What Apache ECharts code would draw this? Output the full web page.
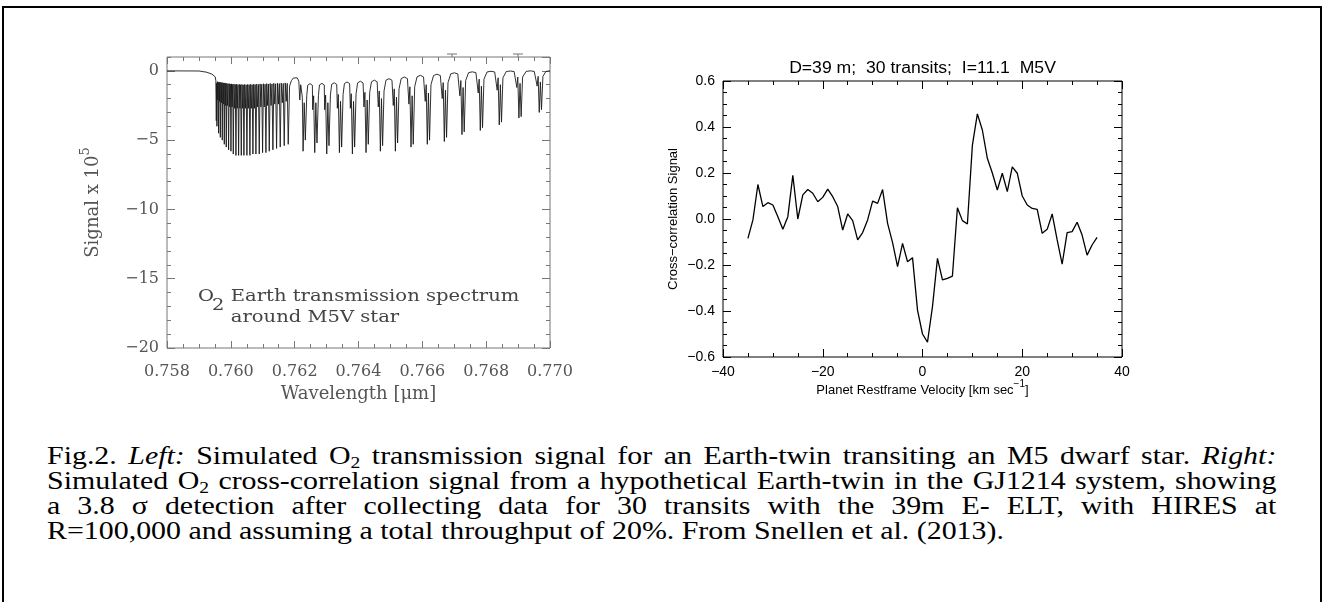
<!DOCTYPE html>
<html>
<head>
<meta charset="utf-8">
<script src="https://cdn.jsdelivr.net/npm/echarts@6.0.0/dist/echarts.min.js"></script>
<style>
html,body{margin:0;padding:0;background:#fff;}
#wrap{position:relative;width:1324px;height:602px;overflow:hidden;background:#fff;}
#chart{position:absolute;left:0;top:0;width:1324px;height:440px;}
#frame{position:absolute;left:2px;top:6px;width:1316px;height:700px;border:2px solid #000;pointer-events:none;z-index:3;}
#caption{position:absolute;left:47px;top:443px;width:1069px;transform:scaleX(1.15);transform-origin:0 0;font-family:'Liberation Serif','Times New Roman',serif;font-size:26px;line-height:25px;color:#000;z-index:2;}
#caption .ln{white-space:nowrap;height:25px;overflow:visible;}
#caption .j{text-align:justify;text-align-last:justify;}
#caption .sub{font-size:17px;line-height:0;position:relative;top:4px;}
</style>
</head>
<body>
<div id="wrap">
  <div id="chart"></div>
  <div id="caption">
    <div class="ln j"><span class="t">Fig.2. <i>Left:</i> Simulated O<span class="sub">2</span> transmission signal for an Earth-twin transiting an M5 dwarf star. <i>Right:</i></span></div>
    <div class="ln j"><span class="t">Simulated O<span class="sub">2</span> cross-correlation signal from a hypothetical Earth-twin in the GJ1214 system, showing</span></div>
    <div class="ln j"><span class="t">a 3.8 σ detection after collecting data for 30 transits with the 39m E- ELT, with HIRES at</span></div>
    <div class="ln"><span class="t">R=100,000 and assuming a total throughput of 20%. From Snellen et al. (2013).</span></div>
  </div>
  <div id="frame"></div>
</div>
<script>
// ---------------- DATA ----------------
// Left panel: O2 transmission spectrum (wavelength in micron, signal x 1e5)
const preBand = [
  [0.7580, 0.0], [0.7585, -0.005], [0.7590, -0.01], [0.75925, -0.1], [0.75941, -0.24],
  [0.75951, -0.43], [0.75953, -0.7], [0.759545, -3.6], [0.759555, -0.9]
];
// R-branch deep absorption lines
const rBranchLines = [
  [0.759565, -4.0], [0.759617, -4.5], [0.759670, -4.8], [0.759732, -5.0], [0.759795, -5.3],
  [0.759857, -5.5], [0.759930, -5.7], [0.760004, -5.8], [0.760077, -6.0], [0.760160, -6.1],
  [0.760244, -6.1], [0.760327, -6.1], [0.760410, -6.1], [0.760504, -6.1], [0.760598, -6.1],
  [0.760692, -6.0], [0.760786, -6.0], [0.760890, -6.0], [0.760995, -5.9], [0.761099, -5.9],
  [0.761204, -5.8], [0.761318, -5.7], [0.761433, -5.6], [0.761548, -5.5], [0.761673, -5.4],
  [0.761798, -5.3]
];
// R-branch: local maxima and weaker lines between the deep lines
const rBranchInter = [
  [0.759578,-0.78],[0.759591,-2.1],[0.759604,-0.82],
  [0.759630,-0.80],[0.759644,-2.2],[0.759657,-0.84],
  [0.759686,-0.82],[0.759701,-2.3],[0.759717,-0.86],
  [0.759748,-0.85],[0.759764,-2.4],[0.759779,-0.88],
  [0.759811,-0.87],[0.759826,-2.5],[0.759842,-0.90],
  [0.759875,-0.90],[0.759894,-2.5],[0.759912,-0.93],
  [0.759949,-0.92],[0.759967,-2.6],[0.759986,-0.95],
  [0.760022,-0.94],[0.760041,-2.6],[0.760059,-0.97],
  [0.760098,-0.95],[0.760119,-2.7],[0.760139,-0.98],
  [0.760181,-0.96],[0.760202,-2.7],[0.760223,-1.00],
  [0.760265,-0.97],[0.760286,-2.7],[0.760306,-1.00],
  [0.760348,-0.98],[0.760369,-2.7],[0.760389,-1.01],
  [0.760434,-0.98],[0.760457,-2.7],[0.760481,-1.01],
  [0.760528,-0.98],[0.760551,-2.7],[0.760575,-1.00],
  [0.760622,-0.97],[0.760645,-2.7],[0.760669,-1.00],
  [0.760716,-0.96],[0.760739,-2.7],[0.760763,-0.99],
  [0.760812,-0.95],[0.760838,-2.6],[0.760864,-0.98],
  [0.760916,-0.94],[0.760943,-2.6],[0.760969,-0.97],
  [0.761021,-0.93],[0.761047,-2.6],[0.761073,-0.96],
  [0.761125,-0.92],[0.761152,-2.5],[0.761178,-0.95],
  [0.761233,-0.91],[0.761261,-2.5],[0.761290,-0.94],
  [0.761347,-0.90],[0.761376,-2.4],[0.761404,-0.93],
  [0.761462,-0.89],[0.761491,-2.4],[0.761519,-0.92],
  [0.761579,-0.88],[0.761611,-2.3],[0.761642,-0.91],
  [0.761704,-0.87],[0.761736,-2.2],[0.761767,-0.90]
];
// Band-centre gap between R and P branches
const gapArch = [
  [0.76184,-1.1],[0.76190,-0.7],[0.76196,-0.52],[0.76202,-0.45],[0.76208,-0.5],
  [0.76213,-0.75],[0.76216,-2.1],[0.76219,-1.0],[0.76224,-1.9]
];
// P-branch: doublets, arches and weak lines
const pBranch = [
  [0.762264,-5.8],[0.762299,-2.3],[0.762334,-5.0],[0.762379,-1.8],[0.762409,-1.04],[0.762482,-0.92],[0.762555,-1.04],[0.762564,-2.8],[0.762594,-1.8],
  [0.762629,-5.9],[0.762664,-2.3],[0.762699,-5.2],[0.762744,-1.8],[0.762777,-1.02],[0.762852,-0.90],[0.762927,-1.02],[0.762940,-2.8],[0.762970,-1.75],
  [0.763005,-6.0],[0.763040,-2.3],[0.763075,-5.4],[0.763120,-1.75],[0.763159,-0.98],[0.763239,-0.86],[0.763318,-0.98],[0.763337,-2.7],[0.763367,-1.7],
  [0.763402,-5.9],[0.763437,-2.2],[0.763472,-5.5],[0.763517,-1.7],[0.763559,-0.92],[0.763641,-0.80],[0.763722,-0.92],[0.763744,-2.7],[0.763774,-1.65],
  [0.763809,-6.0],[0.763844,-2.2],[0.763879,-5.5],[0.763924,-1.65],[0.763972,-0.87],[0.764058,-0.75],[0.764143,-0.87],[0.764171,-2.6],[0.764201,-1.55],
  [0.764236,-5.9],[0.764271,-2.1],[0.764306,-5.3],[0.764351,-1.55],[0.764406,-0.79],[0.764496,-0.67],[0.764585,-0.79],[0.764620,-2.6],[0.764650,-1.45],
  [0.764685,-5.8],[0.764720,-2.0],[0.764755,-5.4],[0.764800,-1.45],[0.764861,-0.68],[0.764955,-0.56],[0.765049,-0.68],[0.765090,-2.5],[0.765120,-1.3],
  [0.765155,-5.8],[0.765190,-1.9],[0.765225,-5.2],[0.765270,-1.3],[0.765337,-0.56],[0.765435,-0.44],[0.765533,-0.56],[0.765580,-2.4],[0.765610,-1.15],
  [0.765645,-5.5],[0.765680,-1.8],[0.765715,-5.3],[0.765760,-1.15],[0.765833,-0.44],[0.765936,-0.32],[0.766038,-0.44],[0.766091,-2.2],[0.766121,-1.0],
  [0.766156,-5.3],[0.766191,-1.6],[0.766226,-5.0],[0.766271,-1.0],[0.766351,-0.34],[0.766458,-0.24],[0.766564,-0.34],[0.766624,-2.0],[0.766654,-0.85],
  [0.766689,-5.1],[0.766724,-1.4],[0.766759,-4.8],[0.766804,-0.85],[0.766890,-0.22],[0.767001,-0.14],[0.767111,-0.22],[0.767177,-1.8],[0.767207,-0.7],
  [0.767242,-4.6],[0.767277,-1.2],[0.767312,-4.4],[0.767357,-0.7],[0.767449,-0.13],[0.767564,-0.07],[0.767679,-0.13],[0.767751,-1.6],[0.767781,-0.6],
  [0.767816,-4.3],[0.767851,-1.1],[0.767886,-4.1],[0.767931,-0.6],[0.768029,-0.08],[0.768148,-0.03],[0.768267,-0.08],[0.768345,-1.4],[0.768375,-0.5],
  [0.768410,-3.9],[0.768445,-1.0],[0.768480,-3.7],[0.768525,-0.5],[0.768630,-0.05],[0.768753,-0.01],[0.768876,-0.05],[0.768961,-1.2],[0.768991,-0.45],
  [0.769026,-3.4],[0.769061,-0.9],[0.769096,-3.3],[0.769141,-0.45],[0.769252,-0.04],[0.769380,0.0],[0.769507,-0.04],[0.769598,-1.1],[0.769628,-0.4],
  [0.769663,-3.0],[0.769698,-0.8],[0.769733,-2.8],[0.769778,-0.4],[0.769870,-0.05],[0.769960,0.0],[0.770000,-0.02]
];
// Small markers drawn just above the top axis of the left panel
const topMarkWl = [0.766930, 0.768996];

// Right panel: cross-correlation signal vs planet restframe velocity (km/s)
const velocity = [-35,-34,-33,-32,-31,-30,-29,-28,-27,-26,-25,-24,-23,-22,-21,-20,-19,-18,-17,-16,-15,-14,-13,-12,-11,-10,-9,-8,-7,-6,-5,-4,-3,-2,-1,0,1,2,3,4,5,6,7,8,9,10,11,12,13,14,15,16,17,18,19,20,21,22,23,24,25,26,27,28,29,30,31,32,33,34,35];
const xcorr = [-0.084,-0.004,0.150,0.054,0.071,0.061,0.010,-0.045,0.010,0.190,0.000,0.105,0.128,0.112,0.075,0.094,0.130,0.097,0.054,-0.048,0.022,-0.007,-0.091,-0.059,-0.004,0.078,0.068,0.128,-0.019,-0.103,-0.207,-0.106,-0.186,-0.168,-0.396,-0.500,-0.535,-0.381,-0.171,-0.265,-0.258,-0.248,0.049,-0.007,-0.022,0.320,0.457,0.387,0.264,0.200,0.126,0.199,0.119,0.227,0.199,0.100,0.061,0.046,0.042,-0.062,-0.045,0.022,-0.091,-0.196,-0.059,-0.055,-0.014,-0.070,-0.157,-0.113,-0.080];

// Axis tick values / labels
const leftXTicks = [0.758, 0.760, 0.762, 0.764, 0.766, 0.768, 0.770];
const leftYTicks = [-20, -15, -10, -5, 0];
const rightXTicks = [-40, -20, 0, 20, 40];
const rightYTicks = [-0.6, -0.4, -0.2, 0.0, 0.2, 0.4, 0.6];

// ---------------- CHART ----------------
const spectrum = [].concat(preBand, rBranchLines, rBranchInter, gapArch, pBranch).sort((a, b) => a[0] - b[0]);
const xcorrData = velocity.map((v, i) => [v, xcorr[i]]);

const GREY = '#777';
const SERIF = 'DejaVu Serif';
const SANS = 'Liberation Sans';
const minus = s => String(s).replace('-', '\u2212');

function tickAxis(base) { return Object.assign({ type: 'value', splitLine: { show: false } }, base); }

const chart = echarts.init(document.getElementById('chart'), null, { renderer: 'canvas' });
const option = {
  animation: false,
  backgroundColor: 'transparent',
  grid: [
    { left: 167, top: 57, width: 383, height: 291, show: true, borderColor: GREY, borderWidth: 1, backgroundColor: 'transparent' },
    { left: 723, top: 81, width: 399, height: 276, show: true, borderColor: '#000', borderWidth: 1, backgroundColor: 'transparent' }
  ],
  xAxis: [
    tickAxis({ gridIndex: 0, min: leftXTicks[0], max: leftXTicks[leftXTicks.length - 1], interval: 0.002, position: 'bottom',
      axisLine: { show: false, onZero: false },
      axisTick: { inside: true, length: 7, lineStyle: { color: GREY } },
      minorTick: { show: true, splitNumber: 4, length: 4, lineStyle: { color: GREY } },
      axisLabel: { margin: 16, fontFamily: SERIF, fontSize: 16, color: '#555', formatter: v => v.toFixed(3) },
      name: 'Wavelength [\u03bcm]', nameLocation: 'middle', nameGap: 37, nameMoveOverlap: false,
      nameTextStyle: { fontFamily: SERIF, fontSize: 18, color: '#555' } }),
    tickAxis({ gridIndex: 0, min: leftXTicks[0], max: leftXTicks[leftXTicks.length - 1], interval: 0.002, position: 'top',
      axisLine: { show: false, onZero: false },
      axisTick: { inside: true, length: 7, lineStyle: { color: GREY } },
      minorTick: { show: true, splitNumber: 4, length: 4, lineStyle: { color: GREY } },
      axisLabel: { show: false } }),
    tickAxis({ gridIndex: 1, min: rightXTicks[0], max: rightXTicks[rightXTicks.length - 1], interval: 20, position: 'bottom',
      axisLine: { show: false, onZero: false },
      axisTick: { inside: true, length: 8, lineStyle: { color: '#000' } },
      minorTick: { show: true, splitNumber: 4, length: 4, lineStyle: { color: '#000' } },
      axisLabel: { margin: 8, fontFamily: SANS, fontSize: 14, color: '#000', formatter: v => minus(v) },
      name: '{a|Planet Restframe Velocity [km sec}{s|\u22121}{a|]}', nameLocation: 'middle', nameGap: 22, nameMoveOverlap: false,
      nameTextStyle: { fontFamily: SANS, fontSize: 13, color: '#000',
        rich: { a: { fontFamily: SANS, fontSize: 13, color: '#000', verticalAlign: 'bottom', lineHeight: 18 },
                s: { fontFamily: SANS, fontSize: 10, color: '#000', verticalAlign: 'bottom', padding: [0, 0, 8, 0] } } } }),
    tickAxis({ gridIndex: 1, min: rightXTicks[0], max: rightXTicks[rightXTicks.length - 1], interval: 20, position: 'top',
      axisLine: { show: false, onZero: false },
      axisTick: { inside: true, length: 8, lineStyle: { color: '#000' } },
      minorTick: { show: true, splitNumber: 4, length: 4, lineStyle: { color: '#000' } },
      axisLabel: { show: false } })
  ],
  yAxis: [
    tickAxis({ gridIndex: 0, min: leftYTicks[0], max: 1, interval: 5, position: 'left',
      axisLine: { show: false, onZero: false },
      axisTick: { inside: true, length: 8, lineStyle: { color: GREY } },
      axisLabel: { margin: 8, showMaxLabel: false, fontFamily: SERIF, fontSize: 16, color: '#555',
        formatter: v => (v > 0 ? '' : (v === 0 ? '0' : '\u2212' + Math.abs(v))) },
      name: '{a|Signal x 10}{s|5}', nameLocation: 'middle', nameRotate: 90, nameGap: 65, nameMoveOverlap: false,
      nameTextStyle: { fontFamily: SERIF, fontSize: 18, color: '#555',
        rich: { a: { fontFamily: SERIF, fontSize: 18, color: '#555', verticalAlign: 'bottom', lineHeight: 22 },
                s: { fontFamily: SERIF, fontSize: 13, color: '#555', verticalAlign: 'bottom', padding: [0, 0, 10, 0] } } } }),
    tickAxis({ gridIndex: 0, min: leftYTicks[0], max: 1, interval: 1, position: 'left',
      axisLine: { show: false, onZero: false },
      axisTick: { inside: true, length: 4, lineStyle: { color: GREY } },
      axisLabel: { show: false } }),
    tickAxis({ gridIndex: 0, min: leftYTicks[0], max: 1, interval: 5, position: 'right',
      axisLine: { show: false, onZero: false },
      axisTick: { inside: true, length: 8, lineStyle: { color: GREY } },
      axisLabel: { show: false } }),
    tickAxis({ gridIndex: 0, min: leftYTicks[0], max: 1, interval: 1, position: 'right',
      axisLine: { show: false, onZero: false },
      axisTick: { inside: true, length: 4, lineStyle: { color: GREY } },
      axisLabel: { show: false } }),
    tickAxis({ gridIndex: 1, min: rightYTicks[0], max: rightYTicks[rightYTicks.length - 1], interval: 0.2, position: 'left',
      axisLine: { show: false, onZero: false },
      axisTick: { inside: true, length: 8, lineStyle: { color: '#000' } },
      minorTick: { show: true, splitNumber: 4, length: 4, lineStyle: { color: '#000' } },
      axisLabel: { margin: 8, fontFamily: SANS, fontSize: 14, color: '#000', formatter: v => minus(v.toFixed(1)) },
      name: 'Cross\u2212correlation Signal', nameLocation: 'middle', nameRotate: 90, nameGap: 43, nameMoveOverlap: false,
      nameTextStyle: { fontFamily: SANS, fontSize: 13, color: '#000' } }),
    tickAxis({ gridIndex: 1, min: rightYTicks[0], max: rightYTicks[rightYTicks.length - 1], interval: 0.2, position: 'right',
      axisLine: { show: false, onZero: false },
      axisTick: { inside: true, length: 8, lineStyle: { color: '#000' } },
      minorTick: { show: true, splitNumber: 4, length: 4, lineStyle: { color: '#000' } },
      axisLabel: { show: false } })
  ],
  series: [
    { type: 'line', xAxisIndex: 0, yAxisIndex: 0, data: spectrum, showSymbol: false, silent: true,
      lineStyle: { width: 0.9, color: '#1a1a1a' } },
    { type: 'line', xAxisIndex: 2, yAxisIndex: 4, data: xcorrData, showSymbol: false, silent: true,
      lineStyle: { width: 1.3, color: '#000' } }
  ]
};
chart.setOption(option);

// Text annotations anchored to data coordinates
const px = (xa, ya, pt) => chart.convertToPixel({ xAxisIndex: xa, yAxisIndex: ya }, pt);
const p0 = px(0, 0, [0.75897, -16.3]);
const p1 = px(0, 0, [0.76000, -16.3]);
const p2 = px(0, 0, [0.76000, -17.8]);
const pSub = px(0, 0, [0.75941, -16.95]);
const pTitle = px(2, 4, [0, 0.6]);
const annStyle = (t, x, y, align) => ({ type: 'text', x: x, y: y, scaleX: 1.15, silent: true,
  style: { text: t, fontFamily: SERIF, fontSize: 17, fill: '#444', align: align || 'left', verticalAlign: 'middle' } });
const marks = [];
topMarkWl.forEach(w => {
  const p = px(0, 0, [w, 1]);
  marks.push({ type: 'line', silent: true, shape: { x1: p[0] - 5, y1: p[1] - 3, x2: p[0] + 5, y2: p[1] - 3 }, style: { stroke: GREY, lineWidth: 1 } });
  marks.push({ type: 'line', silent: true, shape: { x1: p[0], y1: p[1] - 3, x2: p[0], y2: p[1] }, style: { stroke: GREY, lineWidth: 1 } });
});
chart.setOption({
  graphic: [
    annStyle('O', p0[0], p0[1]),
    annStyle('2', pSub[0], pSub[1]),
    annStyle('Earth transmission spectrum', p1[0], p1[1]),
    annStyle('around M5V star', p2[0], p2[1]),
    { type: 'text', x: pTitle[0], y: pTitle[1] - 12, scaleX: 1.1, silent: true,
      style: { text: 'D=39 m;  30 transits;  I=11.1  M5V', fontFamily: SANS, fontSize: 16, fill: '#000', align: 'center', verticalAlign: 'middle' } }
  ].concat(marks)
});
</script>
</body>
</html>
